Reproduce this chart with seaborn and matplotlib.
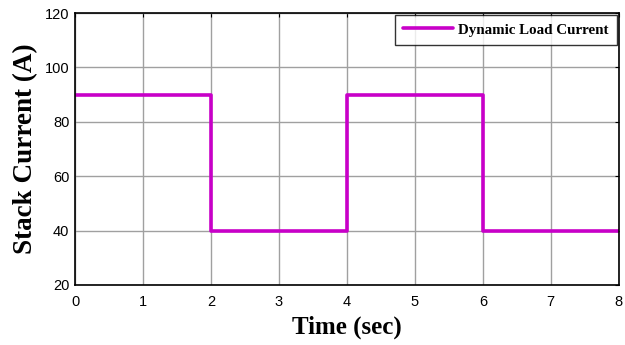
import numpy as np
import pandas as pd
import seaborn as sns
import matplotlib.pyplot as plt

# step load profile
time_s = [0, 2, 4, 6, 8]
current_a = [90, 40, 90, 40, 40]
series_name = "Dynamic Load Current"
xticks = [0, 1, 2, 3, 4, 5, 6, 7, 8]
yticks = [20, 40, 60, 80, 100, 120]

df = pd.DataFrame({"Time": time_s, "Current": current_a})

sns.set_style("white")
plt.rcParams['font.family'] = ['Liberation Sans', 'DejaVu Sans']

fig = plt.figure(figsize=(6.25, 3.45), dpi=100)
ax = fig.add_axes([0.12, 0.174, 0.870, 0.788])

sns.lineplot(data=df, x="Time", y="Current", drawstyle="steps-post",
             color="#C800C8", linewidth=2.6, label=series_name, ax=ax)

ax.set_xlim(0, 8)
ax.set_ylim(20, 120)
ax.set_xticks(xticks)
ax.set_yticks(yticks)
ax.grid(True, color="#a0a0a0", linewidth=1.0)
ax.tick_params(direction="in", length=3, width=0.8, labelsize=10.5, colors="black",
               labelcolor="black", top=True, right=True)
ax.tick_params(axis="x", pad=7)
ax.tick_params(axis="y", pad=4)
for sp in ax.spines.values():
    sp.set_color("black")
    sp.set_linewidth(1.2)

ax.set_xlabel("Time (sec)", family="Liberation Serif", fontweight="bold", fontsize=18,
              color="black", labelpad=5)
ax.set_ylabel("Stack Current (A)", family="Liberation Serif", fontweight="bold", fontsize=19.5,
              color="black", labelpad=5)

leg = ax.legend(loc="upper right", prop={"family": "Liberation Serif", "weight": "bold", "size": 10.8},
                frameon=True, fancybox=False, borderpad=0.55, handlelength=3.3, handletextpad=0.35,
                borderaxespad=0.12)
leg.get_frame().set_edgecolor("black")
leg.get_frame().set_linewidth(1.0)
for t in leg.get_texts():
    t.set_color("black")

fig.savefig("out.png", dpi=100)
